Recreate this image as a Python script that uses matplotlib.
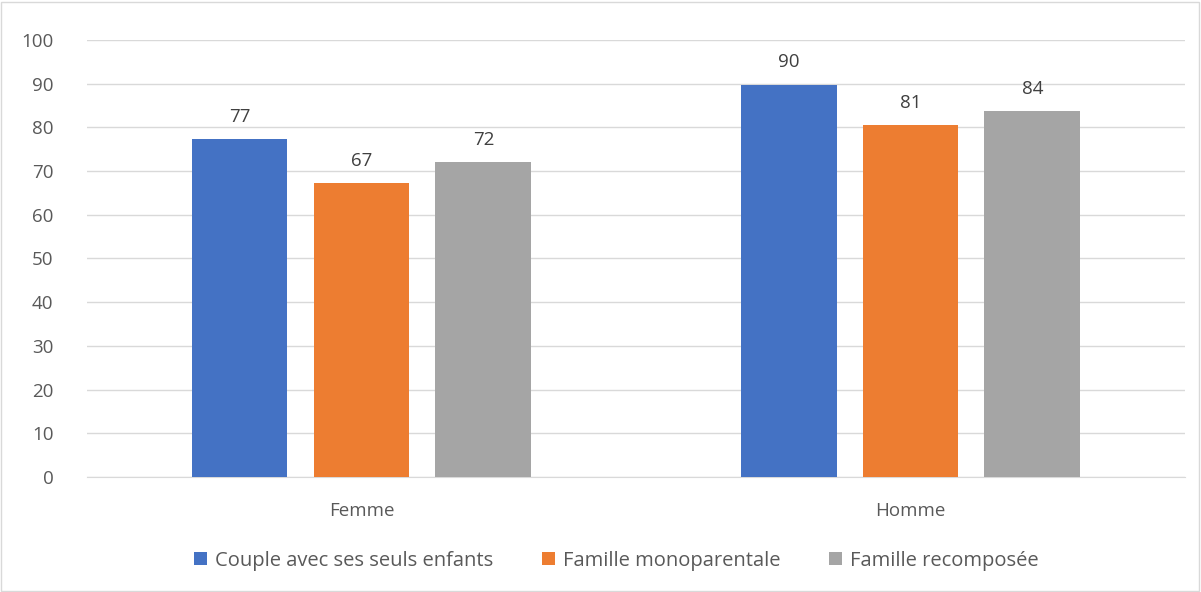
import matplotlib
matplotlib.use("Agg")
import matplotlib.pyplot as plt
import numpy as np
from matplotlib.patches import Rectangle

categories = ["Femme", "Homme"]
series_names = ["Couple avec ses seuls enfants", "Famille monoparentale", "Famille recomposée"]
couple = [77.3, 89.8]
mono = [67.3, 80.6]
recomp = [72.1, 83.7]
yticks = [0, 10, 20, 30, 40, 50, 60, 70, 80, 90, 100]

colors = ["#4472C4", "#ED7D31", "#A5A5A5"]
plt.rcParams['font.family'] = ['Open Sans', 'DejaVu Sans']
FS = 13.5

fig = plt.figure(figsize=(12.01, 5.92), dpi=100)
ax = fig.add_axes([0.0724, 0.1943, 0.9143, 0.7381])

x = np.arange(len(categories))
width = 0.1745
offsets = [-0.222, 0, 0.222]
for vals, off, col, name in zip([couple, mono, recomp], offsets, colors, series_names):
    bars = ax.bar(x + off, vals, width, color=col, label=name, zorder=3)
    for b, v in zip(bars, vals):
        ax.text(b.get_x() + b.get_width() / 2, v + 3.0, f"{round(v)}", ha="center", va="bottom",
                fontsize=FS, color="#404040")

ax.set_xlim(-0.5, 1.5)
ax.set_ylim(0, 100)
ax.set_yticks(yticks)
ax.set_xticks(x)
ax.set_xticklabels(categories)
ax.grid(axis="y", color="#D9D9D9", linewidth=1, zorder=0)
for s in ["top", "right", "left"]:
    ax.spines[s].set_visible(False)
ax.spines["bottom"].set_color("#D9D9D9")
ax.tick_params(axis="both", length=0, labelsize=FS, colors="#595959")
ax.tick_params(axis="x", pad=18)
ax.tick_params(axis="y", pad=24)

leg = fig.legend(loc="center", bbox_to_anchor=(0.513, 0.053), ncol=3, frameon=False,
                 fontsize=14.5, handlelength=0.65, handleheight=0.65, columnspacing=2.4,
                 handletextpad=0.4)
for t in leg.get_texts():
    t.set_color("#595959")

fig.patches.append(Rectangle((0.001, 0.002), 0.997, 0.995, transform=fig.transFigure,
                             fill=False, edgecolor="#D9D9D9", linewidth=1))

fig.savefig("out.png", dpi=100, facecolor="white")
